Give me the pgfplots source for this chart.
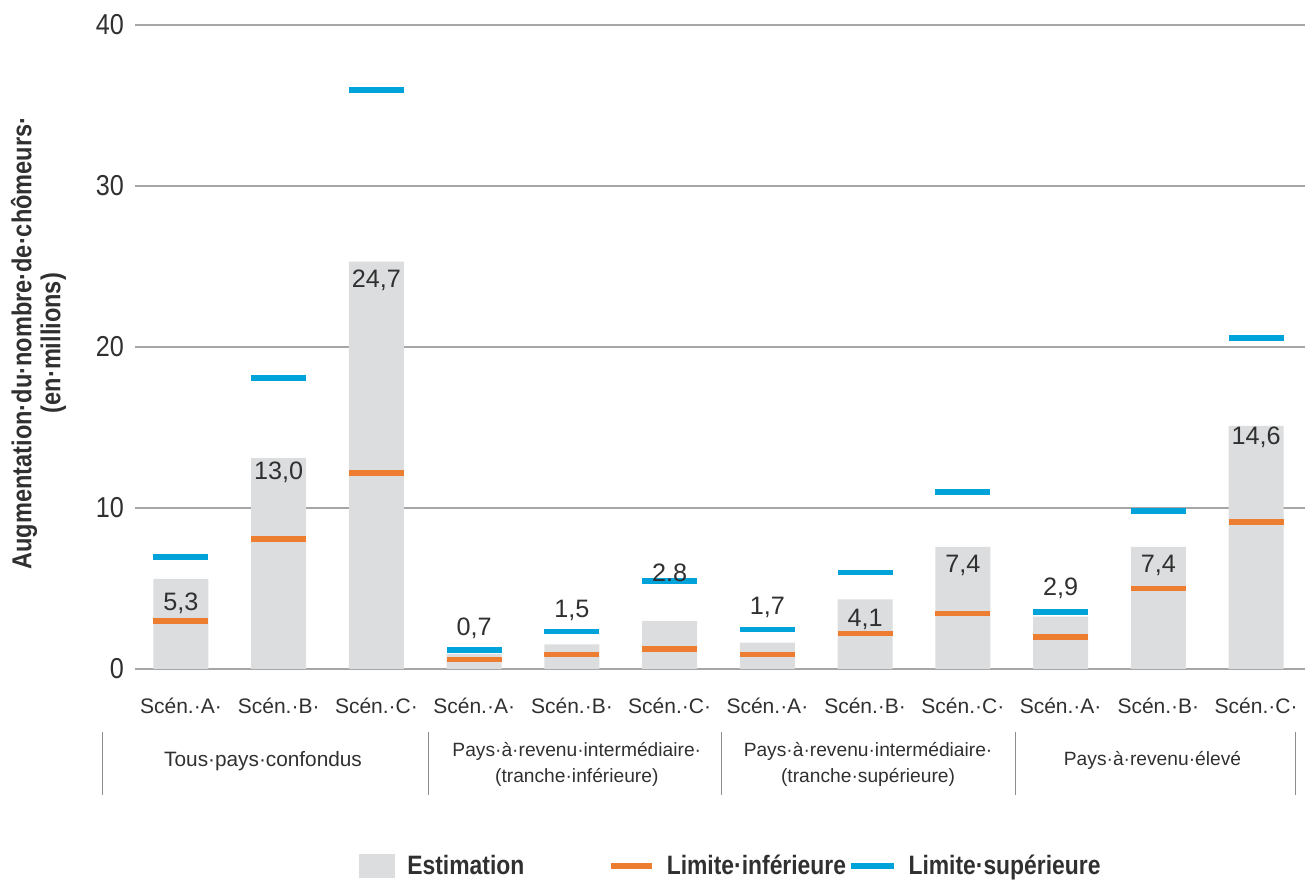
\documentclass[border=0pt]{standalone}
\usepackage{fontspec}
\setmainfont{Liberation Sans}
\newfontfamily\tickfont{Liberation Sans}[FakeStretch=0.875]
\newfontfamily\narrowfont{Liberation Sans}[FakeStretch=0.86]
\usepackage{pgfplots}
\pgfplotsset{compat=1.18}
\usepackage{pgfplotstable}
\definecolor{barGray}{HTML}{DCDDDE}
\definecolor{lowOrange}{HTML}{ED7D31}
\definecolor{upBlue}{HTML}{00A2DA}
\definecolor{txt}{HTML}{303030}
\definecolor{gridc}{HTML}{A6A6A6}
\definecolor{sepc}{HTML}{8C8C8C}

\pgfplotstableread{
x  est   lo    up     ly     lab
0  5.6   2.98  6.96   4.10   5,3
1  13.1  8.07  18.07  12.24  13,0
2  25.3  12.17 35.95  24.15  24,7
3  0.93  0.60  1.18   2.55   0,7
4  1.53  0.91  2.32   3.65   1,5
5  2.98  1.24  5.47   6.00   2.8
6  1.64  0.91  2.46   3.85   1,7
7  4.33  2.19  6.00   3.05   4,1
8  7.58  3.44  11.00  6.43   7,4
9  3.25  2.00  3.54   5.00   2,9
10 7.58  5.01  9.80   6.43   7,4
11 15.1  9.13  20.56  14.40  14,6
}\data

\begin{document}
\begin{tikzpicture}
\begin{axis}[
  scale only axis, width=585pt, height=322pt,
  xmin=-0.47, xmax=11.5, ymin=0, ymax=40,
  axis line style={draw=none},
  ytick={0,10,20,30,40},
  ymajorgrids, grid style={gridc, line width=0.75pt},
  major tick length=0pt,
  xtick={0,...,11},
  xticklabels={Scén.·A·, Scén.·B·, Scén.·C·, Scén.·A·, Scén.·B·, Scén.·C·, Scén.·A·, Scén.·B·, Scén.·C·, Scén.·A·, Scén.·B·, Scén.·C·},
  xticklabel style={font=\fontsize{10.5}{12}\selectfont, text=txt, anchor=center, yshift=-18.5pt},
  yticklabel style={font=\tickfont\fontsize{14.4}{16}\selectfont, text=txt, xshift=-2pt},
  /pgf/number format/assume math mode=true,
  ylabel={Augmentation·du·nombre·de·chômeurs·\\(en·millions)},
  ylabel style={font=\narrowfont\bfseries\fontsize{13.7}{14.5}\selectfont, text=txt, align=center, at={(rel axis cs:-0.0825,0.506)}, anchor=center},
  clip=false,
  legend columns=3,
  legend style={at={(rel axis cs:0.5085,-0.306)}, anchor=center, draw=none, fill=none,
    font=\narrowfont\bfseries\fontsize{13.3}{15}\selectfont, text=txt,
    column sep=6pt, nodes={inner sep=0pt}},
]
\addplot[ybar, bar width=0.563, fill=barGray, draw=none,
  legend image code/.code={\fill[barGray] (0pt,-6pt) rectangle (18pt,6pt);}]
  table[x=x, y=est] {\data};
\addlegendentry{Estimation\hspace*{36pt}}
\addplot[only marks, mark=-, mark size=13.75pt, color=lowOrange,
  mark options={line width=2.75pt, draw=lowOrange},
  legend image code/.code={\draw[lowOrange, line width=2.75pt] (0pt,0pt) -- (20.5pt,0pt);}]
  table[x=x, y=lo] {\data};
\addlegendentry{Limite·inférieure\hspace*{-5pt}}
\addplot[only marks, mark=-, mark size=13.75pt, color=upBlue,
  mark options={line width=2.75pt, draw=upBlue},
  legend image code/.code={\draw[upBlue, line width=2.75pt] (0pt,0pt) -- (21.5pt,0pt);}]
  table[x=x, y=up] {\data};
\addlegendentry{Limite·supérieure}
\addplot[draw=none, mark=none, forget plot, nodes near coords, point meta=explicit symbolic,
  every node near coord/.append style={anchor=center, font=\fontsize{12.6}{14}\selectfont, text=txt, inner sep=0pt}]
  table[x=x, y=ly, meta=lab] {\data};

\pgfplotsinvokeforeach{-0.80, 2.53, 5.53, 8.54, 11.40}{
  \draw[sepc, line width=0.6pt] (axis cs:#1,-3.9) -- (axis cs:#1,-7.8);
}
\node[font=\fontsize{10.4}{12}\selectfont, text=txt] at (axis cs:0.84,-5.72) {Tous·pays·confondus};
\node[font=\fontsize{9.6}{13}\selectfont, text=txt, align=center] at (axis cs:4.05,-5.96) {Pays·à·revenu·intermédiaire·\\(tranche·inférieure)};
\node[font=\fontsize{9.6}{13}\selectfont, text=txt, align=center] at (axis cs:7.03,-5.96) {Pays·à·revenu·intermédiaire·\\(tranche·supérieure)};
\node[font=\fontsize{9.6}{13}\selectfont, text=txt, align=center] at (axis cs:9.94,-5.65) {Pays·à·revenu·élevé};

\path (rel axis cs:-0.1154,-0.3307) coordinate (bl);
\path (rel axis cs:1.0026,1.0388) coordinate (tr);
\end{axis}
\pgfresetboundingbox
\path[use as bounding box] (bl) rectangle (tr);
\end{tikzpicture}
\end{document}
